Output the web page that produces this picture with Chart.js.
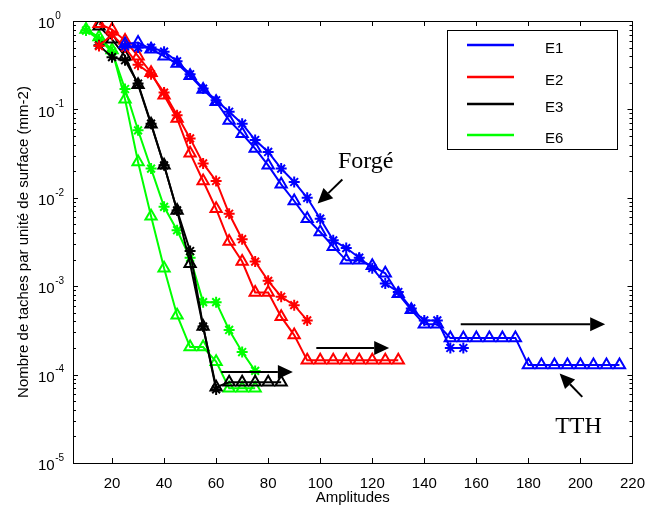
<!DOCTYPE html>
<html>
<head>
<meta charset="utf-8">
<script src="https://cdn.jsdelivr.net/npm/chart.js@4/dist/chart.umd.min.js"></script>
<style>
  html, body { margin: 0; padding: 0; background: #fff; }
  canvas { display: block; }
</style>
</head>
<body>
<canvas id="chart" width="649" height="508"></canvas>
<script>
// amplitudes sampled by the measurement (x axis)
var amplitudes = [10, 15, 20, 25, 30, 35, 40, 45, 50, 55, 60, 65, 70, 75, 80, 85, 90, 95, 100,
    105, 110, 115, 120, 125, 130, 135, 140, 145, 150, 155, 160, 165, 170, 175, 180, 185,
    190, 195, 200, 205, 210, 215];

// tick labels
var xTickLabels = [20, 40, 60, 80, 100, 120, 140, 160, 180, 200, 220];
var yDecades = [-5, -4, -3, -2, -1, 0];

// series names / colours
var seriesNames = ["E1", "E2", "E3", "E6"];
var seriesColors = ["#0000ff", "#ff0000", "#000000", "#00ff00"];

// first amplitude of each curve
var e1ForgeStart = 25, e1TthStart = 25;
var e2ForgeStart = 15, e2TthStart = 15;
var e3ForgeStart = 15, e3TthStart = 15;
var e6ForgeStart = 10, e6TthStart = 10;

// density of spots per unit area (mm-2), star markers = forged, triangles = TTH
var e1Forge = [0.52, 0.50, 0.50, 0.45, 0.35, 0.25, 0.172, 0.127, 0.094, 0.069, 0.045, 0.033,
    0.0214, 0.0151, 0.0100, 0.0058, 0.0033, 0.0027, 0.0021, 0.0016, 0.00107, 0.00086,
    0.00056, 0.00041, 0.00041, 0.00020, 0.00020];
var e1Tth = [0.55, 0.57, 0.48, 0.40, 0.33, 0.24, 0.168, 0.122, 0.075, 0.053, 0.036, 0.0233,
    0.0142, 0.0092, 0.0058, 0.0041, 0.0028, 0.00196, 0.00196, 0.0017, 0.0014, 0.00082,
    0.00054, 0.00037, 0.00037, 0.00026, 0.00026, 0.00026, 0.00026, 0.00026, 0.00026,
    0.000128, 0.000128, 0.000128, 0.000128, 0.000128, 0.000128, 0.000128, 0.000128];
var e2Forge = [0.52, 0.70, 0.50, 0.32, 0.25, 0.155, 0.086, 0.047, 0.0245, 0.0155, 0.0066,
    0.0034, 0.0019, 0.00115, 0.00076, 0.00061, 0.00041];
var e2Tth = [0.93, 0.80, 0.60, 0.40, 0.26, 0.145, 0.079, 0.032, 0.0155, 0.0075, 0.0032, 0.0019,
    0.00085, 0.00085, 0.00045, 0.00028, 0.000145, 0.000145, 0.000145, 0.000145, 0.000145,
    0.000145, 0.000145, 0.000145];
var e3Forge = [0.53, 0.39, 0.36, 0.196, 0.069, 0.0233, 0.0072, 0.0025, 0.00035, 0.000068];
var e3Tth = [0.87, 0.62, 0.40, 0.19, 0.068, 0.0233, 0.0072, 0.0018, 0.00035, 0.000072,
    0.000082, 0.000082, 0.000082, 0.000082, 0.000082];
var e6Forge = [0.78, 0.62, 0.45, 0.17, 0.058, 0.0214, 0.0079, 0.0043, 0.0021, 0.00066, 0.00066,
    0.00032, 0.00018, 0.00011];
var e6Tth = [0.80, 0.66, 0.47, 0.13, 0.0254, 0.0062, 0.0016, 0.00047, 0.000205, 0.000205,
    0.00014, 0.00007, 0.00007, 0.00007];

// annotations (data coordinates)
var arrows = [
    [154, 3.7e-4, 209.5, 3.7e-4],
    [98.5, 2.0e-4, 126.5, 2.0e-4],
    [62, 1.07e-4, 89.5, 1.07e-4],
    [108.5, 0.0161, 99, 0.0086],
    [200.7, 5.6e-5, 192, 1.03e-4]
];
var notes = [
    ["Forgé", 106.8, 0.022],
    ["TTH", 190.3, 2.17e-5]
];

var tickFont = '"Liberation Sans Narrow", "Arial Narrow", Arial, sans-serif';

function curve(ys, start, color, style) {
    var i0 = amplitudes.indexOf(start);
    var pts = ys.map(function (y, i) { return { x: amplitudes[i0 + i], y: y }; });
    return {
        data: pts,
        borderColor: color,
        backgroundColor: "rgba(0,0,0,0)",
        borderWidth: 2,
        pointStyle: style,
        pointRadius: style === "triangle" ? 6.5 : 5.5,
        pointBorderWidth: 2,
        pointBorderColor: color,
        pointBackgroundColor: "rgba(0,0,0,0)",
        tension: 0
    };
}

var datasets = [
    curve(e1Forge, e1ForgeStart, seriesColors[0], "star"),
    curve(e1Tth, e1TthStart, seriesColors[0], "triangle"),
    curve(e2Forge, e2ForgeStart, seriesColors[1], "star"),
    curve(e2Tth, e2TthStart, seriesColors[1], "triangle"),
    curve(e3Forge, e3ForgeStart, seriesColors[2], "star"),
    curve(e3Tth, e3TthStart, seriesColors[2], "triangle"),
    curve(e6Forge, e6ForgeStart, seriesColors[3], "star"),
    curve(e6Tth, e6TthStart, seriesColors[3], "triangle")
];

// frame with inward ticks, log labels with superscripts
var framePlugin = {
    id: "frame",
    afterDraw: function (chart) {
        var ctx = chart.ctx, a = chart.chartArea;
        var xs = chart.scales.x, ys = chart.scales.y;
        ctx.save();
        ctx.strokeStyle = "#000";
        ctx.lineWidth = 1;
        ctx.strokeRect(Math.round(a.left) + 0.5, Math.round(a.top) + 0.5,
            Math.round(a.right - a.left), Math.round(a.bottom - a.top));
        ctx.beginPath();
        xTickLabels.forEach(function (v) {
            var px = Math.round(xs.getPixelForValue(v)) + 0.5;
            ctx.moveTo(px, a.bottom); ctx.lineTo(px, a.bottom - 5);
            ctx.moveTo(px, a.top); ctx.lineTo(px, a.top + 5);
        });
        yDecades.forEach(function (e) {
            for (var m = 1; m < 10; m++) {
                if (e === 0 && m > 1) break;
                var py = Math.round(ys.getPixelForValue(m * Math.pow(10, e))) + 0.5;
                var len = m === 1 ? 5 : 3;
                ctx.moveTo(a.left, py); ctx.lineTo(a.left + len, py);
                ctx.moveTo(a.right, py); ctx.lineTo(a.right - len, py);
            }
        });
        ctx.stroke();

        ctx.fillStyle = "#000";
        ctx.textBaseline = "middle";
        ctx.textAlign = "left";
        yDecades.forEach(function (e) {
            var py = ys.getPixelForValue(Math.pow(10, e));
            ctx.font = "15px " + tickFont;
            ctx.fillText("10", 38, py + 3);
            var w = ctx.measureText("10").width;
            ctx.font = "10px " + tickFont;
            ctx.fillText(String(e), 38 + w + 0.5, py - 5);
        });
        ctx.restore();
    }
};

var notesPlugin = {
    id: "notes",
    afterDatasetsDraw: function (chart) {
        var ctx = chart.ctx, xs = chart.scales.x, ys = chart.scales.y;
        ctx.save();
        ctx.strokeStyle = "#000";
        ctx.fillStyle = "#000";
        ctx.lineWidth = 2;
        arrows.forEach(function (ar) {
            var x1 = xs.getPixelForValue(ar[0]), y1 = ys.getPixelForValue(ar[1]);
            var x2 = xs.getPixelForValue(ar[2]), y2 = ys.getPixelForValue(ar[3]);
            var ang = Math.atan2(y2 - y1, x2 - x1), hl = 15, hw = 7;
            var bx = x2 - hl * Math.cos(ang), by = y2 - hl * Math.sin(ang);
            ctx.beginPath();
            ctx.moveTo(x1, y1); ctx.lineTo(bx, by);
            ctx.stroke();
            ctx.beginPath();
            ctx.moveTo(x2, y2);
            ctx.lineTo(bx + hw * Math.sin(ang), by - hw * Math.cos(ang));
            ctx.lineTo(bx - hw * Math.sin(ang), by + hw * Math.cos(ang));
            ctx.closePath();
            ctx.fill();
        });
        ctx.font = '24px "Liberation Serif", "Times New Roman", serif';
        ctx.textBaseline = "alphabetic";
        notes.forEach(function (n) {
            ctx.fillText(n[0], xs.getPixelForValue(n[1]), ys.getPixelForValue(n[2]));
        });

        // legend box
        ctx.lineWidth = 1;
        ctx.fillStyle = "#fff";
        ctx.fillRect(447.5, 30.5, 170, 119);
        ctx.strokeRect(447.5, 30.5, 170, 119);
        var rows = [45, 77, 104, 135];
        ctx.font = "15px " + tickFont;
        ctx.textBaseline = "middle";
        seriesNames.forEach(function (name, i) {
            ctx.strokeStyle = seriesColors[i];
            ctx.lineWidth = 2.5;
            ctx.beginPath();
            ctx.moveTo(467, rows[i]); ctx.lineTo(514, rows[i]);
            ctx.stroke();
            ctx.fillStyle = "#000";
            ctx.fillText(name, 545, rows[i] + 4);
        });
        ctx.restore();
    }
};

new Chart(document.getElementById("chart").getContext("2d"), {
    type: "line",
    data: { datasets: datasets },
    options: {
        responsive: false,
        animation: false,
        devicePixelRatio: 1,
        layout: { padding: { top: 21, right: 16, left: 0, bottom: 0 } },
        plugins: { legend: { display: false }, tooltip: { enabled: false } },
        scales: {
            x: {
                type: "linear",
                min: 5,
                max: 220,
                grid: { display: false },
                border: { display: false },
                afterBuildTicks: function (scale) {
                    scale.ticks = xTickLabels.map(function (v) { return { value: v }; });
                },
                afterFit: function (scale) { scale.height = 45; },
                ticks: {
                    color: "#000",
                    padding: 4,
                    maxRotation: 0,
                    autoSkip: false,
                    font: { family: tickFont, size: 15 }
                },
                title: {
                    display: true,
                    text: "Amplitudes",
                    color: "#000",
                    font: { family: "Arial, sans-serif", size: 15 },
                    padding: { top: 0, bottom: 1 }
                }
            },
            y: {
                type: "logarithmic",
                min: 1e-5,
                max: 1,
                grid: { display: false },
                border: { display: false },
                ticks: { display: false },
                afterFit: function (scale) { scale.width = 73; },
                title: {
                    display: true,
                    text: "Nombre de taches par unité de surface (mm-2)",
                    color: "#000",
                    font: { family: "Arial, sans-serif", size: 15 },
                    padding: { top: 15, bottom: 0 }
                }
            }
        }
    },
    plugins: [framePlugin, notesPlugin]
});
</script>
</body>
</html>
